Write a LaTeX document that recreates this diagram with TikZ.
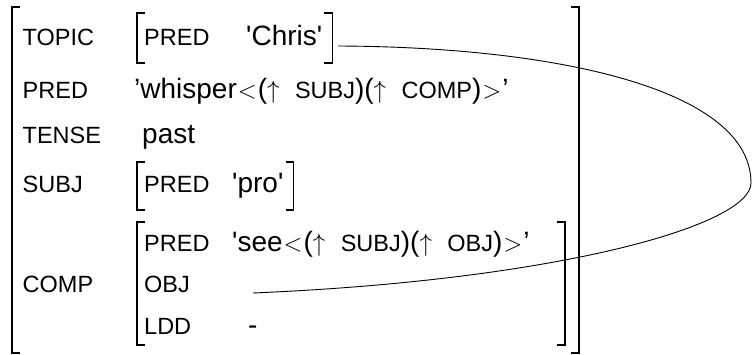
\documentclass[tikz,border=0pt]{standalone}
\usepackage{fontspec}
\usetikzlibrary{calc}
\setmainfont{Liberation Sans}
\newcommand{\fsc}[1]{{\fontsize{23.5}{23.5}\selectfont #1}}
\newcommand{\upa}{$\uparrow$\hspace{0.55em}}
\newcommand{\lang}{\hspace{1pt}{\fontsize{33}{33}\selectfont$<$}\hspace{1pt}}
\newcommand{\rang}{\hspace{1pt}{\fontsize{33}{33}\selectfont$>$}\hspace{1pt}}
\begin{document}
\begin{tikzpicture}[x=1pt,y=-1pt,
  lab/.style={anchor=base west, inner sep=0pt, font=\fontsize{23.5}{23.5}\selectfont},
  val/.style={anchor=base west, inner sep=0pt, font=\fontsize{28}{28}\selectfont},
  obrk/.style={line width=2pt},
  ibrk/.style={line width=1.6pt},
  conn/.style={line width=0.9pt}]
\useasboundingbox (0,0) rectangle (753,355);
% outer brackets
\draw[obrk] (20,7) -- (12,7) -- (12,353) -- (20,353);
\draw[obrk] (571,7) -- (579,7) -- (579,353) -- (571,353);
% outer labels
\node[lab] (ltopic) at (22.5,46) {TOPIC};
\node[lab] (lpred) at (22.5,99) {PRED};
\node[lab] (ltense) at (22.5,144) {TENSE};
\node[lab] (lsubj) at (22.5,193) {SUBJ};
\node[lab] (lcomp) at (22.5,293) {COMP};
% outer values
\node[val] (vpred) at (134,99) {’whisper\lang(\upa\fsc{SUBJ})(\upa\fsc{COMP})\rang’};
\node[val] (vtense) at (142,144) {past};
% TOPIC inner
\node[lab] (tpred) at (144,46) {PRED};
\node[val] (tchris) at (246,46) {\textquotesingle Chris\textquotesingle};
\draw[ibrk] (145,13) -- (137,13) -- (137,63) -- (145,63);
\draw[ibrk] let \p1=(tchris.east) in (\x1+2pt,13) -- (\x1+10pt,13) -- (\x1+10pt,63) -- (\x1+2pt,63);
% SUBJ inner
\node[lab] (spred) at (144,193) {PRED};
\node[val] (spro) at (232,193) {\textquotesingle pro\textquotesingle};
\draw[ibrk] (145,162) -- (137,162) -- (137,210) -- (145,210);
\draw[ibrk] let \p1=(spro.east) in (\x1+2pt,162) -- (\x1+10pt,162) -- (\x1+10pt,210) -- (\x1+2pt,210);
% COMP inner
\node[lab] (cpred) at (144,252) {PRED};
\node[val] (csee) at (232,252) {\textquotesingle see\lang(\upa\fsc{SUBJ})(\upa\fsc{OBJ})\rang’};
\node[lab] (cobj) at (144,293) {OBJ};
\node[lab] (cldd) at (144,335) {LDD};
\node[val] (cdash) at (248,335) {-};
\draw[ibrk] (145,222) -- (137,222) -- (137,345) -- (145,345);
\draw[ibrk] (557,222) -- (565,222) -- (565,345) -- (557,345);
% connector
\coordinate (tstart) at (338,46);
\coordinate (loopr) at (751,183);
\coordinate (objslot) at (253,293);
\draw[conn] (tstart) .. controls (560,47) and (751,90) .. (loopr)
  .. controls (751,225) and (560,280) .. (objslot);
\end{tikzpicture}
\end{document}
